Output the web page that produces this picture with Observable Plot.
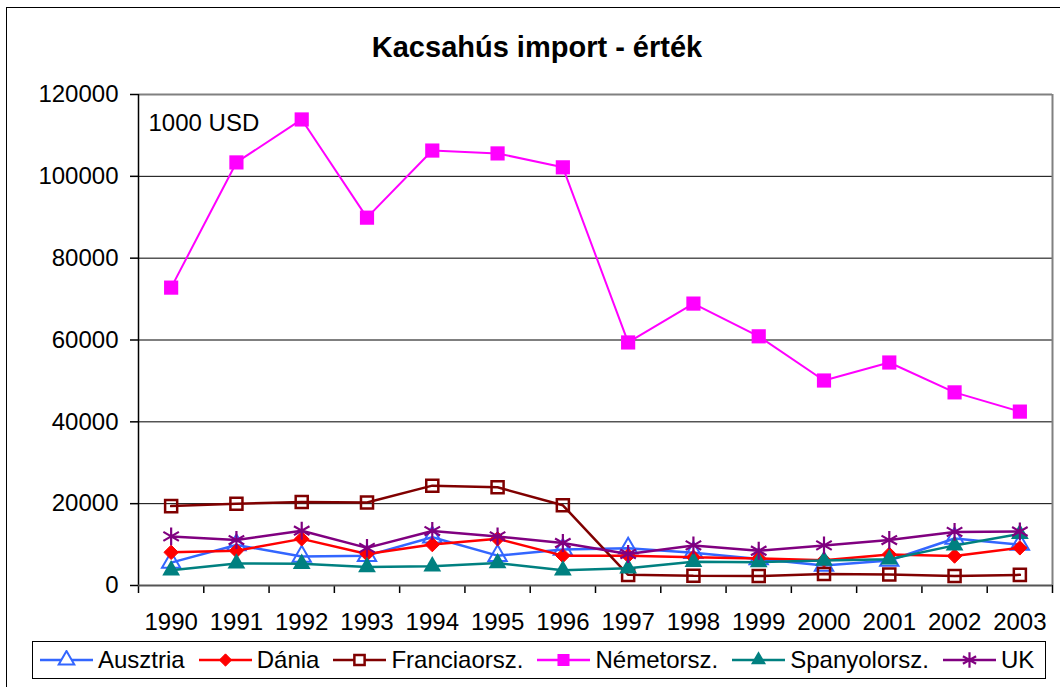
<!DOCTYPE html>
<html><head><meta charset="utf-8">
<script src="https://cdn.jsdelivr.net/npm/d3@7"></script>
<script src="https://cdn.jsdelivr.net/npm/@observablehq/plot@0.6"></script>
<style>
body{margin:0;background:#fff;}
#chart{position:relative;width:1060px;height:687px;overflow:hidden;background:#fff;font-family:"Liberation Sans",Arial,sans-serif;color:#000;}
#chart svg.plot{position:absolute;left:0;top:0;}
#frame{position:absolute;left:6px;top:7px;width:1080px;height:720px;border:1.5px solid #000;box-sizing:border-box;pointer-events:none;}
#title{position:absolute;left:14px;width:1046px;top:33px;text-align:center;font-weight:bold;font-size:29px;line-height:29px;}
#legend{position:absolute;left:32px;top:641px;width:1014px;height:38px;border:1px solid #000;box-sizing:border-box;display:flex;align-items:center;padding-left:7px;font-size:24px;background:#fff;}
#legend .item{display:flex;align-items:center;margin-right:14px;white-space:nowrap;}
#legend .item svg{margin-right:5px;display:block;}
</style>
</head><body>
<div id="chart"><div id="title">Kacsahús import - érték</div></div>
<script>
// ---- data (1000 USD) ----
const years = [1990,1991,1992,1993,1994,1995,1996,1997,1998,1999,2000,2001,2002,2003];
const names = ["Ausztria","Dánia","Franciaorsz.","Németorsz.","Spanyolorsz.","UK"];
const ausztria = [5600,9900,7100,7300,11800,7300,8800,9100,8000,6500,4900,6100,11500,10000];
const dania    = [8100,8500,11400,7700,10000,11400,7300,7300,6900,6600,6200,7600,7200,9200];
const francia  = [19400,20000,20400,20300,24400,24000,19600,2600,2400,2300,2800,2700,2300,2600];
const nemet    = [72800,103400,113900,89900,106300,105600,102200,59400,68900,60900,50100,54500,47200,42500];
const spanyol  = [3700,5400,5300,4500,4700,5500,3700,4200,5800,5700,6100,6400,9800,12600];
const uk       = [12000,11100,13400,9200,13300,12000,10400,7700,9800,8500,9800,11100,13100,13200];
const yTicks = [0,20000,40000,60000,80000,100000,120000];
const unitLabel = "1000 USD";

// ---- styles ----
const seriesValues = [ausztria, dania, francia, nemet, spanyol, uk];
const styles = [
  {color:"#3366FF", sym:"triangle", d3s:d3.symbolTriangle, fill:"none", sw:2, r:6.8, lw:2.5},
  {color:"#FF0000", sym:"diamond2", d3s:d3.symbolDiamond2, fill:"#FF0000", sw:1, r:6.5, lw:2.5},
  {color:"#800000", sym:"square", d3s:d3.symbolSquare, fill:"none", sw:2.5, r:6.8, lw:2.5},
  {color:"#FF00FF", sym:"square", d3s:d3.symbolSquare, fill:"#FF00FF", sw:0, r:8, lw:2},
  {color:"#008080", sym:"triangle", d3s:d3.symbolTriangle, fill:"#008080", sw:0, r:6.6, lw:2.5},
  {color:"#800080", sym:"asterisk", d3s:d3.symbolAsterisk, fill:"none", sw:2.2, r:8.5, lw:2.5}
];

const rows = names.flatMap((n, i) => years.map((y, j) => ({name:n, year:y, value:seriesValues[i][j]})));
const boundaries = years.map(y => y - 0.5).concat([years[years.length-1] + 0.5]);
const xDomain = [boundaries[0], boundaries[boundaries.length-1]];
const yDomain = [yTicks[0], yTicks[yTicks.length-1]];

const seriesMarks = names.flatMap((n, i) => {
  const s = styles[i];
  const data = rows.filter(d => d.name === n);
  return [
    Plot.line(data, {x:"year", y:"value", stroke:s.color, strokeWidth:s.lw, strokeLinejoin:"miter"}),
    Plot.dot(data, {x:"year", y:"value", symbol:s.sym, r:s.r, fill:s.fill, stroke: s.sw ? s.color : "none", strokeWidth:s.sw})
  ];
});

const plot = Plot.plot({
  width:1060, height:640,
  marginLeft:138, marginRight:8, marginTop:94, marginBottom:55,
  x:{type:"linear", domain:xDomain, label:null},
  y:{domain:yDomain, label:null},
  style:{fontFamily:'"Liberation Sans", Arial, sans-serif', fontSize:"24px", color:"#000", background:"transparent", overflow:"visible"},
  marks:[
    Plot.ruleY(yTicks.slice(1, -1), {stroke:"#000", strokeWidth:1}),
    Plot.ruleY([yDomain[1]], {stroke:"#808080", strokeWidth:2}),
    Plot.ruleX([xDomain[1]], {stroke:"#808080", strokeWidth:2}),
    Plot.axisY({ticks:yTicks, tickSize:8, tickPadding:12, tickFormat:d => String(d), fontSize:24, stroke:"#000", strokeWidth:1.5, label:null}),
    Plot.axisX({ticks:boundaries, tickSize:8, tickFormat:() => "", stroke:"#000", strokeWidth:1.5, label:null}),
    Plot.axisX({ticks:years, tickSize:0, tickPadding:27, tickFormat:d => String(d), fontSize:24, label:null}),
    Plot.text([unitLabel], {frameAnchor:"top-left", dx:10, dy:19, lineAnchor:"top", text:d => d, fontSize:24, fill:"#000"}),
    ...seriesMarks,
    Plot.ruleX([xDomain[0]], {stroke:"#000", strokeWidth:1.5}),
    Plot.ruleY([yDomain[0]], {stroke:"#555", strokeWidth:2})
  ]
});
plot.classList.add("plot");
const chart = document.getElementById("chart");
chart.insertBefore(plot, chart.firstChild);

const frame = document.createElement("div"); frame.id = "frame"; chart.appendChild(frame);

// legend
const legend = document.createElement("div"); legend.id = "legend";
names.forEach((n, i) => {
  const s = styles[i];
  const item = document.createElement("div"); item.className = "item";
  const svg = d3.create("svg").attr("width", 53).attr("height", 20);
  svg.append("line").attr("x1",0).attr("x2",53).attr("y1",10).attr("y2",10).attr("stroke",s.color).attr("stroke-width",2.5);
  const rr = s.r * 0.85;
  svg.append("path").attr("transform","translate(26.5,10)")
    .attr("d", d3.symbol(s.d3s, Math.PI * rr * rr)())
    .attr("fill", s.fill === "none" ? "#fff" : s.fill)
    .attr("stroke", s.sw ? s.color : "none").attr("stroke-width", s.sw);
  item.appendChild(svg.node());
  const t = document.createElement("span"); t.textContent = n; item.appendChild(t);
  legend.appendChild(item);
});
chart.appendChild(legend);
</script>
</body></html>
